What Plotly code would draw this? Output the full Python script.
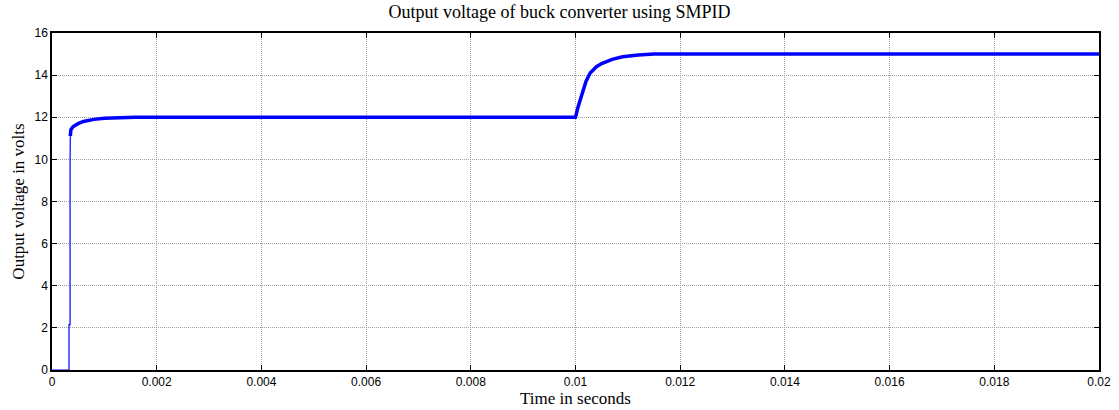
import plotly.graph_objects as go

# Startup transient (thin trace)
t_start = [0.0, 0.000325, 0.000325, 0.000345, 0.000345, 0.00035]
v_start = [0.0, 0.0, 2.15, 2.15, 9.8, 11.1]

# Regulated output with switching ripple (thick trace)
t_main = [0.00035, 0.00036, 0.0004, 0.0005, 0.0006, 0.0008, 0.001, 0.0013, 0.0016,
          0.005, 0.01, 0.01005, 0.0101, 0.0102, 0.01028, 0.0104, 0.0105, 0.0107,
          0.0109, 0.0112, 0.0115, 0.015, 0.02]
v_main = [11.1, 11.4, 11.55, 11.7, 11.8, 11.9, 11.95, 11.98, 12.0,
          12.0, 12.0, 12.5, 12.9, 13.7, 14.1, 14.4, 14.55, 14.75,
          14.87, 14.96, 15.0, 15.0, 15.0]

x_ticks = [0, 0.002, 0.004, 0.006, 0.008, 0.01, 0.012, 0.014, 0.016, 0.018, 0.02]
x_labels = ["0", "0.002", "0.004", "0.006", "0.008", "0.01", "0.012", "0.014", "0.016", "0.018", "0.02"]
y_ticks = [0, 2, 4, 6, 8, 10, 12, 14, 16]

fig = go.Figure()
fig.add_trace(go.Scatter(x=t_start, y=v_start, mode="lines",
                         line=dict(color="#0000ff", width=1.2), showlegend=False))
fig.add_trace(go.Scatter(x=t_main, y=v_main, mode="lines",
                         line=dict(color="#0000ff", width=3.5), showlegend=False))

axis_common = dict(showline=True, linecolor="black", linewidth=1.5, mirror="ticks",
                   ticks="inside", ticklen=5, tickcolor="black", automargin=False,
                   showgrid=True, gridcolor="#a0a0a0", griddash="1px,1px", gridwidth=1,
                   zeroline=False, tickfont=dict(family="Liberation Sans, Arial", size=12, color="black"))

serif = "Liberation Serif, Times New Roman"
fig.update_xaxes(range=[0, 0.02], tickvals=x_ticks, ticktext=x_labels,
                 title=dict(text="Time in seconds", font=dict(family=serif, size=17, color="black"), standoff=0),
                 **axis_common)
fig.update_yaxes(range=[0, 16], tickvals=y_ticks,
                 title=dict(text="Output voltage in volts", font=dict(family=serif, size=17, color="black"), standoff=6),
                 **axis_common)

fig.update_layout(
    width=1119, height=410,
    margin=dict(l=52, r=20, t=33, b=40),
    paper_bgcolor="white", plot_bgcolor="white",
    title=dict(text="Output voltage of buck converter using SMPID", x=0.5, xanchor="center",
               y=0.988, yanchor="top",
               font=dict(family=serif, size=18, color="black")),
)

fig.write_html("out.html")
